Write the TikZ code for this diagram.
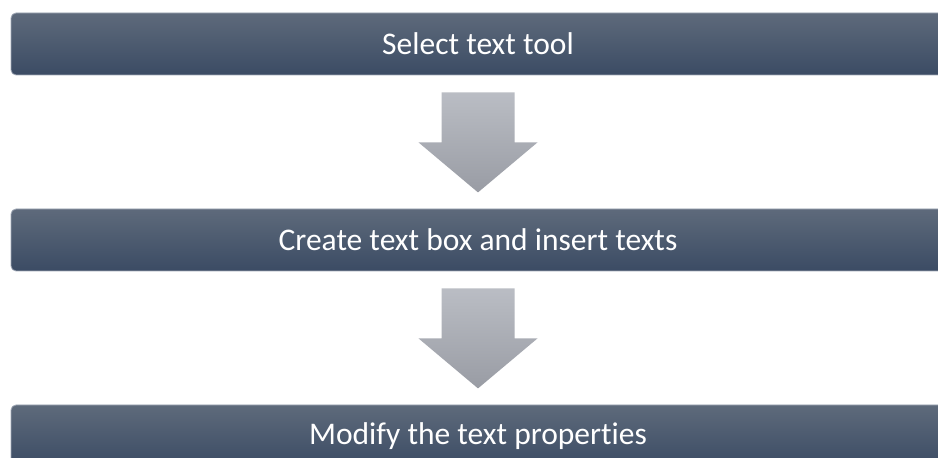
\documentclass[tikz,border=0pt]{standalone}
\usepackage{fontspec}
\setmainfont{Carlito}[Ligatures=NoCommon]
\definecolor{barTop}{HTML}{5E6A7B}
\definecolor{barBot}{HTML}{3B4B64}
\definecolor{barEdge}{HTML}{A0A8B6}
\definecolor{arrTop}{HTML}{BABDC4}
\definecolor{arrBot}{HTML}{999CA4}
\begin{document}
\begin{tikzpicture}[x=1pt,y=1pt]
\tikzset{
  stepbar/.style={rectangle, rounded corners=5pt, minimum width=934pt,
    minimum height=62pt, inner sep=0pt, top color=barTop, bottom color=barBot,
    draw=barEdge, line width=0.8pt, text=white,
    font=\fontsize{31.5}{36}\selectfont},
  downarrow/.pic={
    \path[top color=arrTop, bottom color=arrBot]
      (-36.5,0) -- (36.5,0) -- (36.5,-50) -- (59.5,-50) -- (0,-100)
      -- (-59.5,-50) -- (-36.5,-50) -- cycle;
  }
}
\useasboundingbox (0,0) rectangle (938,458);
\clip (0,0) rectangle (938,458);
\fill[white] (0,0) rectangle (938,458);

% process steps
\node[stepbar] (s1) at (478,414) {Select text tool};
\node[stepbar] (s2) at (478,218) {Create text box and insert texts};
\node[stepbar] (s3) at (478,22) {Modify the text properties};

% block arrows between steps
\pic at ([yshift=-17pt]s1.south) {downarrow};
\pic at ([yshift=-17pt]s2.south) {downarrow};
\end{tikzpicture}
\end{document}
